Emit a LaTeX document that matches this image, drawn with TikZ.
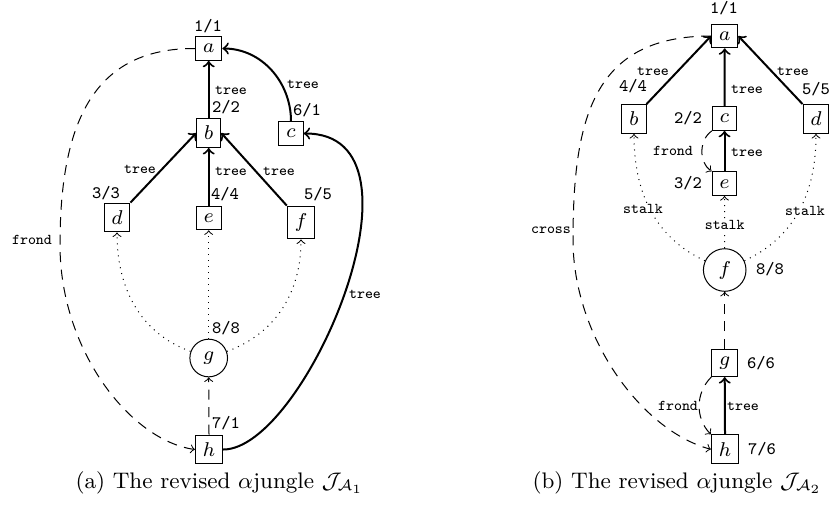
\documentclass[tikz,border=0pt]{standalone}
\tikzset{
  vbox/.style={draw, rectangle, inner sep=3pt, line width=0.4pt, font=\fontsize{8}{9}\selectfont},
  vcirc/.style={draw, circle, inner sep=3pt, line width=0.4pt, font=\fontsize{8}{9}\selectfont},
  num/.style={font=\fontsize{7}{8}\selectfont\ttfamily, inner sep=0pt},
  lbl/.style={font=\fontsize{6}{7}\selectfont\ttfamily, inner sep=0pt},
  slbl/.style={lbl, fill=white, inner sep=0.6pt},
  treeedge/.style={->, line width=0.8pt},
  frondedge/.style={->, line width=0.4pt, dash pattern=on 4pt off 3pt},
  stalkedge/.style={->, line width=0.4pt, dotted},
  captext/.style={font=\fontsize{9}{11}\selectfont, inner sep=0pt, anchor=base west}
}
\begin{document}
\begin{tikzpicture}[x=0.4pt,y=-0.4pt]
\useasboundingbox (0,0) rectangle (830,508);

% ---------- left jungle ----------
\node[vbox] (a1) at (208.7,48.5) {$a$};
\node[vbox] (b1) at (208.7,133) {$b$};
\node[vbox] (c1) at (291,133.5) {$c$};
\node[vbox] (d1) at (117,217.5) {$d$};
\node[vbox] (e1) at (208.7,218) {$e$};
\node[vbox] (f1) at (301,222.5) {$f$};
\node[vcirc] (g1) at (208.7,358) {$g$};
\node[vbox] (h1) at (209,449.5) {$h$};
\coordinate (fl) at (60,245);

\draw[treeedge] (b1.north) -- (a1.south);
\draw[treeedge] (c1.north) to[out=90,in=0] (a1.east);
\draw[treeedge] (d1.north east) -- (b1.west);
\draw[treeedge] (e1.north) -- (b1.south);
\draw[treeedge] (f1.north west) -- (b1.east);
\draw[stalkedge] (g1.160) to[out=160,in=-90] (d1.south);
\draw[stalkedge] (g1.north) -- (e1.south);
\draw[stalkedge] (g1.20) to[out=20,in=-90] (f1.south);
\draw[frondedge] (h1.north) -- (g1.south);
\draw[treeedge] (h1.east) .. controls (305,450) and (440,133) .. (c1.east);
\draw[frondedge] (a1.west) .. controls (95,48) and (60,120) .. (fl) .. controls (60,350) and (130,440) .. (h1.west);

\node[num] (n1a) at (208,26) {1/1};
\node[num] (n1b) at (226,107) {2/2};
\node[num] (n1c) at (307,110) {6/1};
\node[num] (n1d) at (106,193) {3/3};
\node[num] (n1e) at (225,194) {4/4};
\node[num] (n1f) at (318,194) {5/5};
\node[num] (n1g) at (226,328) {8/8};
\node[num] (n1h) at (226,423) {7/1};

\node[lbl] (t1ab) at (231,90) {tree};
\node[lbl] (t1ca) at (303,84) {tree};
\node[lbl] (t1db) at (140,169) {tree};
\node[lbl] (t1eb) at (231,171) {tree};
\node[lbl] (t1fb) at (279,171) {tree};
\node[lbl] (t1hc) at (365,294) {tree};
\node[lbl] (fr1) at (32,240) {frond};

% ---------- right jungle ----------
\node[vbox] (a2) at (724.7,36) {$a$};
\node[vbox] (b2) at (634,119) {$b$};
\node[vbox] (c2) at (724.5,118.5) {$c$};
\node[vbox] (d2) at (816,119) {$d$};
\node[vbox] (e2) at (724.5,183.7) {$e$};
\node[vcirc] (f2) at (724.7,270) {$f$};
\node[vbox] (g2) at (724.7,362.8) {$g$};
\node[vbox] (h2) at (725,449.3) {$h$};
\coordinate (cr) at (573,240);

\draw[treeedge] (b2.north east) -- (a2.west);
\draw[treeedge] (c2.north) -- (a2.south);
\draw[treeedge] (d2.north west) -- (a2.east);
\draw[treeedge] (e2.north) -- (c2.south);
\draw[frondedge] (c2.south west) to[bend right=55] (e2.north west);
\draw[stalkedge] (f2.155) to[out=155,in=-90] (b2.south);
\draw[stalkedge] (f2.north) -- (e2.south);
\draw[stalkedge] (f2.25) to[out=25,in=-90] (d2.south);
\draw[frondedge] (g2.north) -- (f2.south);
\draw[treeedge] (h2.north) -- (g2.south);
\draw[frondedge] (g2.south west) to[bend right=45] (h2.north west);
\draw[frondedge] (a2.west) .. controls (595,36) and (573,115) .. (cr) .. controls (573,335) and (640,430) .. (h2.west);

\node[num] (n2a) at (724,8) {1/1};
\node[num] (n2b) at (633,86) {4/4};
\node[num] (n2c) at (688,118) {2/2};
\node[num] (n2d) at (816,89) {5/5};
\node[num] (n2e) at (688,183) {3/2};
\node[num] (n2f) at (770,269) {8/8};
\node[num] (n2g) at (761,363) {6/6};
\node[num] (n2h) at (762,449) {7/6};

\node[lbl] (t2ba) at (653,71) {tree};
\node[lbl] (t2ca) at (747,89) {tree};
\node[lbl] (t2da) at (793,71) {tree};
\node[lbl] (t2ec) at (747,152) {tree};
\node[lbl] (t2hg) at (743,406) {tree};
\node[lbl] (fr2a) at (673,151) {frond};
\node[lbl] (fr2b) at (678,406) {frond};
\node[lbl] (cr2) at (551,230) {cross};
\node[slbl] (s2b) at (643,209) {stalk};
\node[slbl] (s2e) at (724.7,225) {stalk};
\node[slbl] (s2d) at (805,211) {stalk};

% ---------- captions ----------
\node[captext] (capa) at (75,488) {(a) The revised $\alpha$jungle $\mathcal{J}_{\mathcal{A}_1}$};
\node[captext] (capb) at (532,488) {(b) The revised $\alpha$jungle $\mathcal{J}_{\mathcal{A}_2}$};
\end{tikzpicture}
\end{document}
